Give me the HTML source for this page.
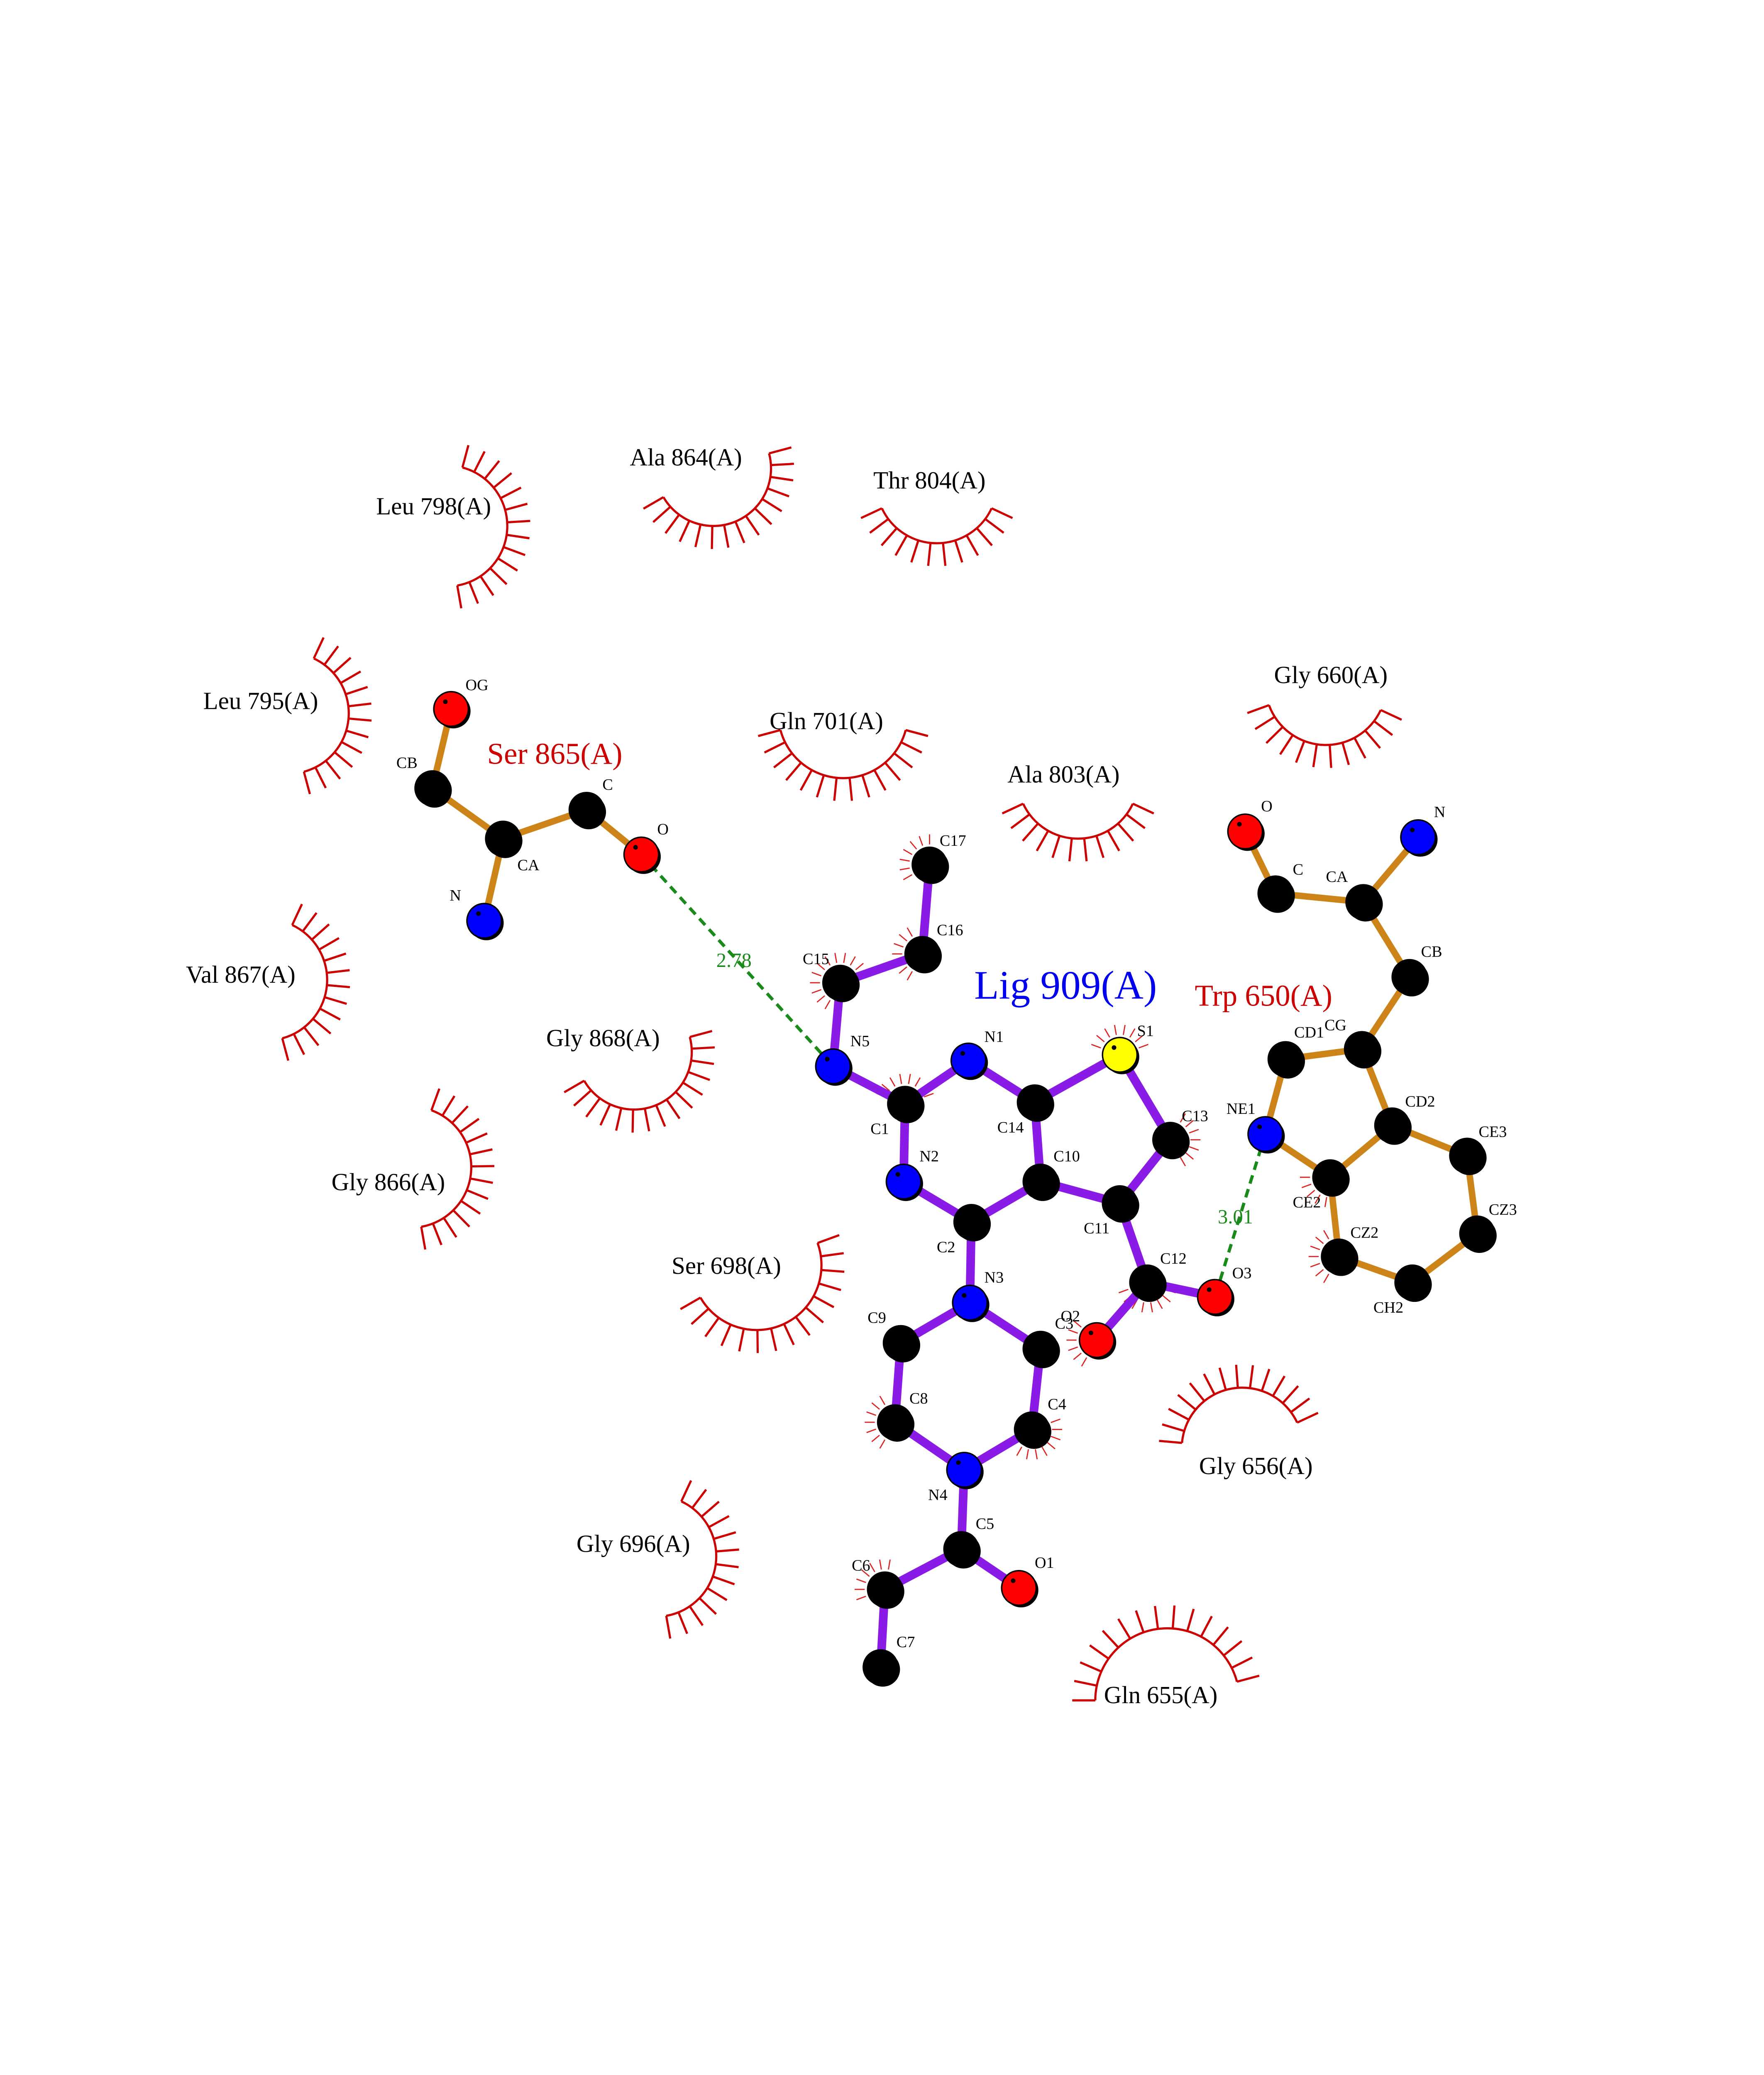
<!DOCTYPE html>
<html><head><meta charset="utf-8"><style>
html,body{margin:0;padding:0;background:#fff;width:4250px;height:5500px;overflow:hidden;}
svg{display:block;}
text{font-family:"Liberation Serif",serif;}
</style></head><body>
<svg id="s" xmlns="http://www.w3.org/2000/svg" width="4250" height="5500" viewBox="0 0 1224 1584">
<rect width="1224" height="1584" fill="#fff"/>
<g id="hyd" stroke="#cc0000" stroke-width="1.5" fill="none"></g>
<g id="hyd2" stroke="#dd2222" stroke-width="0.8" fill="none"></g>
<g id="bonds" stroke-linecap="round"></g>
<g stroke="#1a8a1a" stroke-width="2.2" stroke-dasharray="6,4">
<line x1="445" y1="593" x2="578" y2="740"/>
<line x1="878" y1="787" x2="843" y2="900"/>
</g>
<g id="atoms"></g>
<g id="labels" font-size="11" fill="#000"></g>
<g font-size="17" fill="#000">
<text x="261" y="357">Leu 798(A)</text>
<text x="437" y="323">Ala 864(A)</text>
<text x="606" y="339">Thr 804(A)</text>
<text x="141" y="492">Leu 795(A)</text>
<text x="534" y="506">Gln 701(A)</text>
<text x="699" y="543">Ala 803(A)</text>
<text x="884" y="474">Gly 660(A)</text>
<text x="129" y="682">Val 867(A)</text>
<text x="379" y="726">Gly 868(A)</text>
<text x="230" y="826">Gly 866(A)</text>
<text x="466" y="884">Ser 698(A)</text>
<text x="832" y="1023">Gly 656(A)</text>
<text x="400" y="1077">Gly 696(A)</text>
<text x="766" y="1182">Gln 655(A)</text>
</g>
<text x="338" y="530" font-size="21" fill="#cc0000">Ser 865(A)</text>
<text x="829" y="698" font-size="21" fill="#cc0000">Trp 650(A)</text>
<text x="676" y="693" font-size="28" fill="#0000ee">Lig 909(A)</text>
<text x="497" y="671" font-size="14" fill="#1a8a1a">2.78</text>
<text x="845" y="849" font-size="14" fill="#1a8a1a">3.01</text>
<circle cx="60" cy="1468" r="1" fill="#000"/>
</svg>
<script>
var NS="http://www.w3.org/2000/svg";
function el(p,t,a){var e=document.createElementNS(NS,t);for(var k in a)e.setAttribute(k,a[k]);p.appendChild(e);return e;}
var A={
C17:[645,600,'C'],C16:[640,662,'C'],C15:[583,682,'C'],N5:[578,740,'N'],C1:[628,766,'C'],N1:[672,736,'N'],N2:[627,820,'N'],
C14:[718,765,'C'],S1:[777,732,'S'],C13:[812,791,'C'],C10:[722,820,'C'],C11:[777,835,'C'],C2:[674,848,'C'],N3:[673,904,'N'],
C9:[625,932,'C'],C3:[722,936,'C'],C8:[621,987,'C'],C4:[716,992,'C'],N4:[669,1020,'N'],C5:[667,1075,'C'],C6:[614,1103,'C'],
C7:[611,1157,'C'],O1:[707,1102,'O'],C12:[796,890,'C'],O2:[761,930,'O'],O3:[843,900,'O'],
sOG:[313,492,'O'],sCB:[300,547,'C'],sCA:[349,582,'C'],sC:[407,562,'C'],sO:[445,593,'O'],sN:[336,639,'N'],
tO:[864,577,'O'],tC:[885,620,'C'],tCA:[946,626,'C'],tN:[984,581,'N'],tCB:[978,678,'C'],tCG:[945,728,'C'],tCD1:[892,735,'C'],
tNE1:[878,787,'N'],tCE2:[923,817,'C'],tCD2:[966,781,'C'],tCE3:[1018,802,'C'],tCZ3:[1025,856,'C'],tCH2:[980,890,'C'],tCZ2:[929,872,'C']};
var LB=[['C17',652,587],['C16',650,649],['C15',557,669],['N5',590,726],['C1',604,787],
['N1',683,723],['N2',638,806],['C14',692,786],['S1',789,719],['C13',820,778],
['C10',731,806],['C11',752,856],['C2',650,869],['N3',683,890],['C9',602,918],
['C3',732,922],['C8',631,974],['C4',727,978],['N4',644,1041],['C5',677,1061],
['C6',591,1090],['C7',622,1143],['O1',718,1088],['C12',805,877],['O2',736,917],['O3',855,887],
['OG',323,479],['CB',275,533],['CA',359,604],['C',418,548],['O',456,579],['N',312,625],
['O',875,563],['C',897,607],['CA',920,612],['N',995,567],['CB',986,664],['CG',919,715],
['CD1',898,720],['NE1',851,773],['CE2',897,838],['CD2',975,768],['CE3',1026,789],['CZ3',1033,843],
['CH2',953,911],['CZ2',937,859]];
var lig=[['C17','C16'],['C16','C15'],['C15','N5'],['N5','C1'],['C1','N1'],['C1','N2'],['N1','C14'],['N2','C2'],['C14','C10'],['C14','S1'],['S1','C13'],['C13','C11'],['C11','C10'],['C10','C2'],['C2','N3'],['N3','C9'],['N3','C3'],['C9','C8'],['C3','C4'],['C8','N4'],['C4','N4'],['N4','C5'],['C5','C6'],['C6','C7'],['C5','O1'],['C11','C12'],['C12','O2'],['C12','O3']];
var res=[['sOG','sCB'],['sCB','sCA'],['sCA','sC'],['sC','sO'],['sCA','sN'],['tO','tC'],['tC','tCA'],['tCA','tN'],['tCA','tCB'],['tCB','tCG'],['tCG','tCD1'],['tCD1','tNE1'],['tNE1','tCE2'],['tCE2','tCD2'],['tCD2','tCG'],['tCD2','tCE3'],['tCE3','tCZ3'],['tCZ3','tCH2'],['tCH2','tCZ2'],['tCZ2','tCE2']];
var gb=document.getElementById('bonds');
lig.forEach(function(b){var a=A[b[0]],c=A[b[1]];el(gb,'line',{x1:a[0],y1:a[1],x2:c[0],y2:c[1],stroke:'#8a1be6','stroke-width':6});});
res.forEach(function(b){var a=A[b[0]],c=A[b[1]];el(gb,'line',{x1:a[0],y1:a[1],x2:c[0],y2:c[1],stroke:'#cc8418','stroke-width':4.5});});
var col={C:'#000',N:'#0000ff',O:'#ff0000',S:'#ffff00'};
var ga=document.getElementById('atoms');
for(var k in A){var a=A[k];
el(ga,'circle',{cx:a[0]+1.5,cy:a[1]+1.5,r:12,fill:'#000'});
el(ga,'circle',{cx:a[0],cy:a[1],r:12,fill:col[a[2]],stroke:'#000','stroke-width':1});
el(ga,'circle',{cx:a[0]-4,cy:a[1]-5,r:1.6,fill:'#000'});}
var gl=document.getElementById('labels');
LB.forEach(function(l){var t=el(gl,'text',{x:l[1],y:l[2]});t.textContent=l[0];});
var gh=document.getElementById('hyd');
function lash(cx,cy,r,a0,a1){var d2r=Math.PI/180,n=Math.max(5,Math.round((a1-a0)/12));
var p0=[cx+r*Math.cos(a0*d2r),cy+r*Math.sin(a0*d2r)],p1=[cx+r*Math.cos(a1*d2r),cy+r*Math.sin(a1*d2r)];
el(gh,'path',{d:'M'+p0[0]+' '+p0[1]+' A'+r+' '+r+' 0 '+((a1-a0)>180?1:0)+' 1 '+p1[0]+' '+p1[1]});
for(var i=0;i<=n;i++){var a=(a0+(a1-a0)*i/n)*d2r;
el(gh,'line',{x1:cx+r*Math.cos(a),y1:cy+r*Math.sin(a),x2:cx+(r+16)*Math.cos(a),y2:cy+(r+16)*Math.sin(a)});}}
lash(310,365,42,-75,80);
lash(495,325,40,-15,150);
lash(650,335,42,25,155);
lash(200,495,42,-65,75);
lash(585,495,45,15,165);
lash(748,540,42,25,155);
lash(920,475,42,25,160);
lash(185,680,42,-65,75);
lash(440,730,40,-15,150);
lash(285,810,42,-70,80);
lash(525,878,45,-20,150);
lash(862,1005,42,-175,-25);
lash(455,1080,42,-65,80);
lash(810,1180,50,-180,-15);
var gh2=document.getElementById('hyd2');
function small(k,a0,a1){var a=A[k],d2r=Math.PI/180;for(var t=a0;t<=a1;t+=20){var r=t*d2r;
el(gh2,'line',{x1:a[0]+14*Math.cos(r),y1:a[1]+14*Math.sin(r),x2:a[0]+21*Math.cos(r),y2:a[1]+21*Math.sin(r)});}}
small('C17',150,270);small('C16',120,240);small('C15',120,330);small('C1',200,340);
small('S1',200,340);small('C13',-60,60);small('C12',20,160);small('C4',-20,120);
small('C8',120,240);small('C6',160,280);small('O2',120,220);small('tCZ2',120,240);small('tCE2',100,180);
</script>
</body></html>
